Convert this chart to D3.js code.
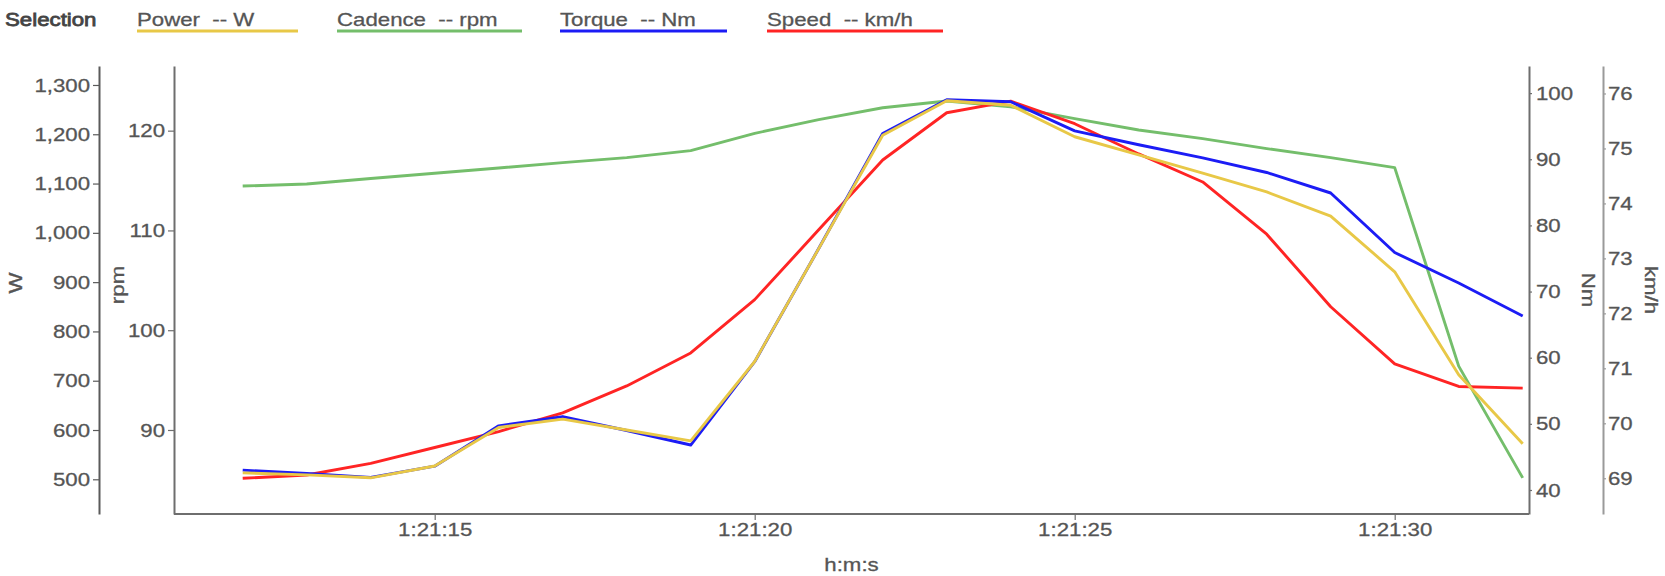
<!DOCTYPE html>
<html>
<head>
<meta charset="utf-8">
<script src="https://cdn.jsdelivr.net/npm/d3@7"></script>
<style>
  html, body { margin: 0; padding: 0; background: #fff; }
  svg { display: block; font-family: "Liberation Sans", Arial, sans-serif; }
  text { white-space: pre; }
</style>
</head>
<body>
<svg id="chart" width="1665" height="576"></svg>
<script>
// ---- data ----
const times   = ["1:21:12","1:21:13","1:21:14","1:21:15","1:21:16","1:21:17","1:21:18","1:21:19","1:21:20","1:21:21",
                 "1:21:22","1:21:23","1:21:24","1:21:25","1:21:26","1:21:27","1:21:28","1:21:29","1:21:30","1:21:31","1:21:32"];
const power   = [513, 509, 503, 527, 605, 622, 600, 578, 739, 968, 1198, 1268, 1259, 1195, 1158, 1121, 1083, 1034, 921, 712, 572];
const cadence = [114.45, 114.65, 115.2, 115.73, 116.26, 116.8, 117.3, 118.0, 119.73, 121.1, 122.3, 122.97, 122.4, 121.2, 120.07, 119.2, 118.2, 117.3, 116.3, 96.4, 85.2];
const torque  = [43.0, 42.5, 41.9, 43.6, 49.7, 51.1, 49.0, 46.8, 59.4, 76.5, 93.9, 99.0, 98.7, 94.3, 92.2, 90.2, 88.0, 84.9, 75.9, 71.3, 66.3];
const speed   = [69.0, 69.06, 69.27, 69.56, 69.85, 70.19, 70.68, 71.28, 72.25, 73.52, 74.79, 75.65, 75.86, 75.45, 74.9, 74.39, 73.44, 72.12, 71.08, 70.67, 70.64];

const seriesNames = ["Power", "Cadence", "Torque", "Speed"];
const seriesUnits = ["W", "rpm", "Nm", "km/h"];
const xTitle = "h:m:s";
const legendTitle = "Selection";

// axis domains
const powerDomain   = [429.6, 1338.5];
const cadenceDomain = [81.58, 126.48];
const torqueDomain  = [36.37, 104.1];
const speedDomain   = [68.35, 76.5];

// ---- layout ----
const colors = ["#e8c847", "#74be6b", "#1c1cf5", "#ff2424"];
const plotL = 174, plotR = 1529, plotT = 66, plotB = 514;
const STRETCH = 1.17;
const FS = 19;
const textCol = "#555";
const axisCol = "#6e6e6e";

const svg = d3.select("#chart");
const parse = d3.timeParse("%H:%M:%S");
const dates = times.map(parse);

const x = d3.scaleTime().domain(d3.extent(dates)).range([242.7, 1522.7]);
const yPow = d3.scaleLinear().domain(powerDomain).range([plotB, plotT]);
const yCad = d3.scaleLinear().domain(cadenceDomain).range([plotB, plotT]);
const yTor = d3.scaleLinear().domain(torqueDomain).range([plotB, plotT]);
const ySpd = d3.scaleLinear().domain(speedDomain).range([plotB, plotT]);

function styleAxis(g, lineCol) {
  g.selectAll("path.domain").attr("stroke", lineCol).attr("stroke-width", 2);
  g.selectAll(".tick line").attr("stroke", lineCol).attr("stroke-width", 1.2);
  g.selectAll(".tick text").attr("fill", textCol).attr("font-size", FS)
    .attr("stroke", textCol).attr("stroke-width", 0.3);
  g.attr("font-family", null).attr("font-size", null);
}

// x axis
const gx = svg.append("g").attr("transform", `translate(0,${plotB})`)
  .call(d3.axisBottom(x).ticks(d3.timeSecond.every(5)).tickFormat(d3.timeFormat("%-H:%M:%S")).tickSizeOuter(0));
styleAxis(gx, axisCol);
gx.select("path.domain").attr("d", `M${plotL},0H${plotR}`);

// W axis (offset left)
const gW = svg.append("g").attr("transform", `translate(99,0)`)
  .call(d3.axisLeft(yPow).tickValues(d3.range(500, 1301, 100)).tickFormat(d3.format(",")).tickSizeOuter(0));
styleAxis(gW, "#5a5a5a");

// rpm axis (plot left)
const gR = svg.append("g").attr("transform", `translate(${plotL},0)`)
  .call(d3.axisLeft(yCad).tickValues([90, 100, 110, 120]).tickSizeOuter(0));
styleAxis(gR, axisCol);

// Nm axis (plot right)
const gN = svg.append("g").attr("transform", `translate(${plotR},0)`)
  .call(d3.axisRight(yTor).tickValues(d3.range(40, 101, 10)).tickSize(3).tickPadding(4).tickSizeOuter(0));
styleAxis(gN, axisCol);

// km/h axis (offset right)
const gS = svg.append("g").attr("transform", `translate(1603,0)`)
  .call(d3.axisRight(ySpd).tickValues(d3.range(69, 77, 1)).tickSize(3).tickPadding(2).tickSizeOuter(0));
styleAxis(gS, "#9a9a9a");

// lines
const yScales = [yPow, yCad, yTor, ySpd];
const values = [power, cadence, torque, speed];
const drawOrder = [1, 3, 2, 0];
drawOrder.forEach(i => {
  const line = d3.line().x((d, j) => x(dates[j])).y(d => yScales[i](d));
  svg.append("path").datum(values[i])
    .attr("fill", "none").attr("stroke", colors[i]).attr("stroke-width", 2.9)
    .attr("stroke-linejoin", "round")
    .attr("d", line);
});

// axis titles
function title(t, tr) {
  return svg.append("text").attr("transform", tr)
    .attr("text-anchor", "middle").attr("font-size", FS).attr("fill", textCol)
    .attr("stroke", textCol).attr("stroke-width", 0.3).text(t);
}
title(seriesUnits[0], "translate(22,283) rotate(-90)");
title(seriesUnits[1], "translate(124,285) rotate(-90)");
title(seriesUnits[2], "translate(1582,290) rotate(90)");
title(seriesUnits[3], "translate(1645,290) rotate(90)");
title(xTitle, `translate(${(plotL + plotR) / 2},571)`);

// legend
svg.append("text").attr("x", 5).attr("y", 26).attr("font-size", FS)
  .attr("fill", "#444").attr("stroke", "#444").attr("stroke-width", 0.8).text(legendTitle);
const legX = [137, 337, 560, 767];
const legW = [161, 185, 167, 176];
seriesNames.forEach((n, i) => {
  svg.append("text").attr("x", legX[i]).attr("y", 26).attr("font-size", FS)
    .attr("fill", textCol).attr("stroke", textCol).attr("stroke-width", 0.3)
    .text(`${n}  -- ${seriesUnits[i]}`);
  svg.append("line").attr("x1", legX[i]).attr("x2", legX[i] + legW[i])
    .attr("y1", 31).attr("y2", 31).attr("stroke", colors[i]).attr("stroke-width", 3);
});

// horizontal stretch of all texts to match the reference's wide lettering
svg.selectAll("text").each(function () {
  const L = this.getComputedTextLength();
  if (L > 0) {
    this.setAttribute("textLength", (L * STRETCH).toFixed(1));
    this.setAttribute("lengthAdjust", "spacingAndGlyphs");
  }
});
</script>
</body>
</html>
